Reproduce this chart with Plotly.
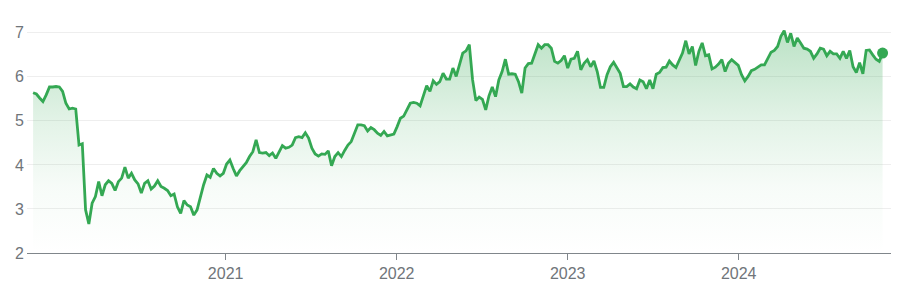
import plotly.graph_objects as go
import pandas as pd

# Weekly closing values
start_date = "2019-11-17"
values = [
    # late 2019 - 2020
    5.64, 5.61, 5.52, 5.44, 5.59, 5.77, 5.77, 5.78, 5.77, 5.67, 5.40, 5.27, 5.29, 5.27,
    4.45, 4.48, 2.98, 2.66, 3.13, 3.28, 3.62, 3.30, 3.55, 3.64, 3.58, 3.42, 3.62, 3.70,
    3.95, 3.70, 3.81, 3.66, 3.57, 3.36, 3.58, 3.64, 3.45, 3.52, 3.64, 3.51, 3.47, 3.42,
    3.30, 3.34, 3.05, 2.90, 3.19, 3.09, 3.05, 2.86, 2.98, 3.30, 3.55,
    # 2021
    3.77, 3.72, 3.92, 3.81, 3.75, 3.81, 4.02, 4.11, 3.92, 3.75, 3.87, 3.95, 4.05, 4.19,
    4.30, 4.57, 4.28, 4.27, 4.28, 4.21, 4.27, 4.15, 4.30, 4.44, 4.38, 4.40, 4.45, 4.62,
    4.64, 4.62, 4.73, 4.61, 4.38, 4.25, 4.20, 4.25, 4.24, 4.32, 3.98, 4.19, 4.28, 4.19,
    4.33, 4.45, 4.53, 4.70, 4.91, 4.91, 4.89, 4.77, 4.85, 4.80, 4.72, 4.67, 4.76, 4.66,
    4.68, 4.70,
    # 2022
    4.87, 5.06, 5.11, 5.25, 5.40, 5.42, 5.40, 5.34, 5.59, 5.80, 5.67, 5.91, 5.83, 5.89,
    6.08, 5.95, 5.95, 6.20, 6.01, 6.27, 6.54, 6.59, 6.73, 5.93, 5.46, 5.54, 5.49, 5.25,
    5.57, 5.77, 5.55, 5.93, 6.12, 6.40, 6.06, 6.07, 6.06, 5.89, 5.63, 6.20, 6.30, 6.31,
    6.50, 6.73, 6.65, 6.73, 6.73, 6.65, 6.35, 6.31, 6.37, 6.48, 6.20, 6.40, 6.42,
    # 2023
    6.58, 6.16, 6.31, 6.39, 6.23, 6.36, 6.12, 5.76, 5.76, 6.05, 6.23, 6.33, 6.21, 6.08,
    5.78, 5.78, 5.84, 5.77, 5.73, 5.93, 5.89, 5.73, 5.93, 5.73, 6.06, 6.10, 6.21, 6.22,
    6.36, 6.27, 6.21, 6.39, 6.54, 6.82, 6.52, 6.69, 6.26, 6.58, 6.77, 6.48, 6.50, 6.18,
    6.22, 6.29, 6.39, 6.12, 6.31, 6.39, 6.33, 6.26, 6.05, 5.91, 6.01, 6.14,
    # 2024
    6.17, 6.22, 6.27, 6.27, 6.40, 6.56, 6.60, 6.69, 6.92, 7.05, 6.78, 6.99, 6.69, 6.88,
    6.77, 6.65, 6.63, 6.58, 6.42, 6.52, 6.65, 6.63, 6.48, 6.58, 6.52, 6.52, 6.42, 6.58,
    6.42, 6.60, 6.23, 6.10, 6.32, 6.07, 6.60, 6.61, 6.50, 6.40, 6.35, 6.54,
]
dates = pd.date_range(start_date, periods=len(values), freq="7D")

year_ticks = ["2021-01-01", "2022-01-01", "2023-01-01", "2024-01-01"]
year_labels = ["2021", "2022", "2023", "2024"]
y_ticks = [2, 3, 4, 5, 6, 7]
y_labels = ["2", "3", "4", "5", "6", "7"]

line_color = "#34a853"
text_color = "#70757a"
axis_color = "#80868b"
font_family = "Arial, Liberation Sans, sans-serif"

fig = go.Figure()
fig.add_trace(go.Scatter(
    x=dates, y=values, mode="lines",
    line=dict(color=line_color, width=2.8),
    fill="tozeroy",
    fillgradient=dict(
        type="vertical", start=2, stop=7,
        colorscale=[
            [0.0, "rgba(52,168,83,0)"],
            [0.3, "rgba(52,168,83,0.04)"],
            [0.6, "rgba(52,168,83,0.14)"],
            [1.0, "rgba(52,168,83,0.33)"],
        ],
    ),
    hoverinfo="skip",
))
fig.add_trace(go.Scatter(
    x=[dates[-1]], y=[values[-1]], mode="markers",
    marker=dict(color=line_color, size=11),
    hoverinfo="skip",
))

fig.update_layout(
    width=903, height=293,
    margin=dict(l=27, r=12, t=24, b=40),
    paper_bgcolor="white", plot_bgcolor="white",
    showlegend=False,
    font=dict(family=font_family, color=text_color, size=16),
    xaxis=dict(
        type="date", range=["2019-11-04", "2024-11-21"],
        tickvals=year_ticks, ticktext=year_labels,
        ticks="outside", ticklen=6, tickcolor=axis_color, tickwidth=1,
        showline=True, linecolor=axis_color, linewidth=1,
        showgrid=False, zeroline=False,
        tickfont=dict(family=font_family, color=text_color, size=16),
    ),
    yaxis=dict(
        range=[2, 7.2],
        tickvals=y_ticks, ticktext=y_labels,
        showgrid=True, gridcolor="#eeeeee", gridwidth=1,
        zeroline=False, showline=False, ticks="",
        ticklabelstandoff=2,
        tickfont=dict(family=font_family, color=text_color, size=16),
    ),
)

fig.write_html("out.html")
